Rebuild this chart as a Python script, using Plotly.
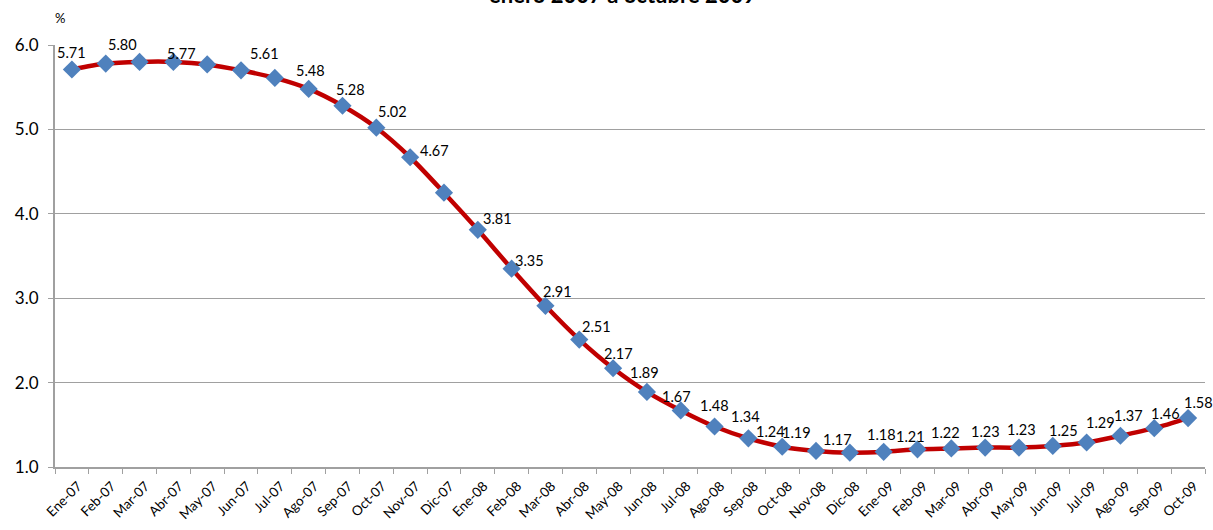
import plotly.graph_objects as go

months = ["Ene-07", "Feb-07", "Mar-07", "Abr-07", "May-07", "Jun-07", "Jul-07", "Ago-07",
          "Sep-07", "Oct-07", "Nov-07", "Dic-07", "Ene-08", "Feb-08", "Mar-08", "Abr-08",
          "May-08", "Jun-08", "Jul-08", "Ago-08", "Sep-08", "Oct-08", "Nov-08", "Dic-08",
          "Ene-09", "Feb-09", "Mar-09", "Abr-09", "May-09", "Jun-09", "Jul-09", "Ago-09",
          "Sep-09", "Oct-09"]

values = [5.71, 5.78, 5.80, 5.80, 5.77, 5.70, 5.61, 5.48,
          5.28, 5.02, 4.67, 4.25, 3.81, 3.35, 2.91, 2.51,
          2.17, 1.89, 1.67, 1.48, 1.34, 1.24, 1.19, 1.17,
          1.18, 1.21, 1.22, 1.23, 1.23, 1.25, 1.29, 1.37,
          1.46, 1.58]

# which points carry a data label (True) in the original chart
labelled = [True, False, True, False, True, False, True, True,
            True, True, True, False, True, True, True, True,
            True, True, True, True, True, True, True, True,
            True, True, True, True, True, True, True, True,
            True, True]

y_ticks = [1.0, 2.0, 3.0, 4.0, 5.0, 6.0]

title_text = "enero 2007 a octubre 2009"
unit_text = "%"

# label placement offsets in pixels (dx right, dy down) relative to each point
label_offsets = [(0, -17), (0, 0), (-17, -17), (0, 0), (-26, -11), (0, 0), (-10, -24), (2, -18),
                 (8, -16), (16, -16), (24, -7), (0, 0), (20, -11), (18, -8), (12, -14), (17, -13),
                 (5, -15), (-2, -19), (-4, -14), (0, -21), (-3, -22), (-12, -15), (-20, -18), (-12, -13),
                 (-2, -17), (-7, -13), (-6, -16), (0, -16), (3, -18), (11, -15), (14, -20), (8, -20),
                 (11, -15), (10, -16)]

FONT = "Lato"
GRID = "#A0A0A0"

fig = go.Figure()
fig.add_trace(go.Scatter(
    x=months, y=values, mode="lines+markers",
    line=dict(color="#C00000", width=4.5, shape="spline", smoothing=0.8),
    marker=dict(symbol="diamond", size=14, color="#4F81BD", line=dict(width=0)),
    hoverinfo="x+y", showlegend=False,
))

annotations = []
for m, v, show, (dx, dy) in zip(months, values, labelled, label_offsets):
    if not show:
        continue
    annotations.append(dict(
        x=m, y=v, xref="x", yref="y", text=f"{v:.2f}", showarrow=False,
        xshift=dx, yshift=-dy, font=dict(family=FONT, size=14.5, color="#000000"),
    ))

annotations.append(dict(
    x=0.5, xref="paper", y=1.083, yref="paper", yanchor="bottom", xanchor="center",
    text=f"<b>{title_text}</b>", showarrow=False, xshift=-8,
    font=dict(family=FONT, size=22, color="#000000"),
))
annotations.append(dict(
    x=0.004, xref="paper", y=1.064, yref="paper", xanchor="center", yanchor="middle",
    text=unit_text, showarrow=False, font=dict(family=FONT, size=13, color="#000000"),
))

fig.update_layout(
    width=1213, height=530,
    margin=dict(l=55, r=8, t=45, b=63),
    paper_bgcolor="white", plot_bgcolor="white",
    annotations=annotations,
    xaxis=dict(
        type="category", range=[-0.5, len(months) - 0.5],
        tickangle=-45, tickson="boundaries", ticks="outside", ticklen=5,
        tickcolor=GRID, showline=True, linecolor=GRID, linewidth=2,
        showgrid=False, tickfont=dict(family=FONT, size=13.5, color="#000000"),
        ticklabelstandoff=4, ticklabelshift=6,
        fixedrange=True,
    ),
    yaxis=dict(
        range=[1.0, 6.0], tickvals=y_ticks, ticktext=[f"{t:.1f}" for t in y_ticks],
        ticks="outside", ticklen=5, tickcolor=GRID,
        showline=True, linecolor=GRID, linewidth=2,
        showgrid=True, gridcolor=GRID, gridwidth=1.3, zeroline=False,
        tickfont=dict(family=FONT, size=17, color="#000000"),
        ticklabelstandoff=6, fixedrange=True,
    ),
)

fig.write_html("out.html", config={"displayModeBar": False},
               post_script="document.body.style.margin='0';")
